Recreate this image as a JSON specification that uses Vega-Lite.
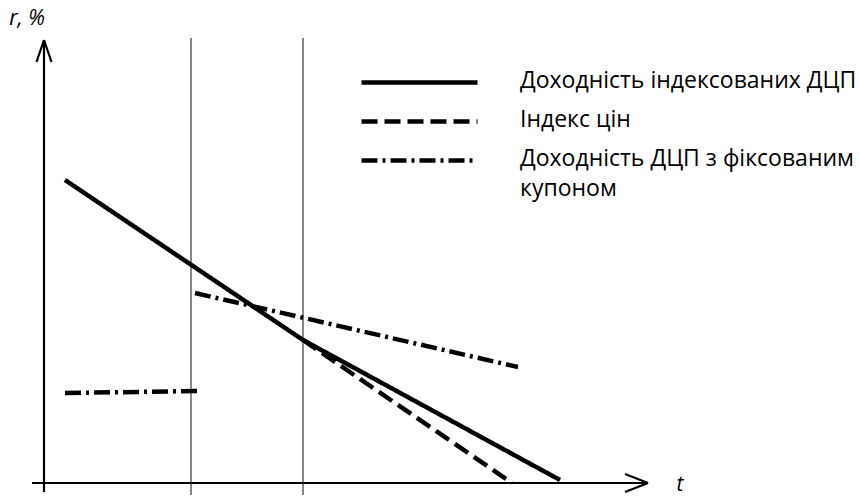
{
  "$schema": "https://vega.github.io/schema/vega-lite/v6.json",
  "width": 860,
  "height": 496,
  "autosize": {"type": "fit", "contains": "padding"},
  "padding": 0,
  "background": "white",
  "config": {"view": {"stroke": null}},
  "datasets": {
    "periods": [
      {"t": 14.7, "r0": -1.2, "r1": 44.5},
      {"t": 25.9, "r0": -1.2, "r1": 44.5}
    ],
    "axes": [
      {"part": "t axis", "t0": -1.2, "r0": 0, "t1": 60.4, "r1": 0},
      {"part": "t arrow upper", "t0": 58.1, "r0": 0.9, "t1": 60.4, "r1": 0},
      {"part": "t arrow lower", "t0": 58.1, "r0": -0.9, "t1": 60.4, "r1": 0},
      {"part": "r axis", "t0": 0, "r0": -0.9, "t1": 0, "r1": 44.3},
      {"part": "r arrow left", "t0": -0.75, "r0": 42.1, "t1": 0, "r1": 44.3},
      {"part": "r arrow right", "t0": 0.75, "r0": 42.1, "t1": 0, "r1": 44.3}
    ],
    "series": [
      {"series": "Доходність індексованих ДЦП", "seg": "a", "t": 2.1, "r": 30.3},
      {"series": "Доходність індексованих ДЦП", "seg": "a", "t": 25.9, "r": 14.3},
      {"series": "Доходність індексованих ДЦП", "seg": "a", "t": 51.6, "r": 0.3},
      {"series": "Індекс цін", "seg": "b", "t": 25.9, "r": 14.3},
      {"series": "Індекс цін", "seg": "b", "t": 46.8, "r": 0},
      {"series": "Доходність ДЦП з фіксованим купоном", "seg": "c1", "t": 2.1, "r": 9.0},
      {"series": "Доходність ДЦП з фіксованим купоном", "seg": "c1", "t": 15.4, "r": 9.2},
      {"series": "Доходність ДЦП з фіксованим купоном", "seg": "c2", "t": 15.1, "r": 19.0},
      {"series": "Доходність ДЦП з фіксованим купоном", "seg": "c2", "t": 47.4, "r": 11.6}
    ],
    "titles": [
      {"label": "r, %", "t": -1.7, "r": 46.4},
      {"label": "t", "t": 63.6, "r": -0.2}
    ]
  },
  "encoding": {
    "x": {"type": "quantitative", "axis": null, "scale": {"domain": [-4.4, 81.6], "nice": false, "zero": false}},
    "y": {"type": "quantitative", "axis": null, "scale": {"domain": [-1.3, 48.3], "nice": false, "zero": false}}
  },
  "layer": [
    {
      "data": {"name": "periods"},
      "mark": {"type": "rule", "color": "#555555", "strokeWidth": 1.4},
      "encoding": {
        "x": {"field": "t", "type": "quantitative"},
        "y": {"field": "r0", "type": "quantitative"},
        "y2": {"field": "r1"}
      }
    },
    {
      "data": {"name": "axes"},
      "mark": {"type": "rule", "color": "black", "strokeWidth": 2.2, "strokeCap": "butt"},
      "encoding": {
        "x": {"field": "t0", "type": "quantitative"},
        "y": {"field": "r0", "type": "quantitative"},
        "x2": {"field": "t1"},
        "y2": {"field": "r1"}
      }
    },
    {
      "data": {"name": "series"},
      "mark": {"type": "line", "color": "black", "strokeWidth": 4.5, "strokeCap": "butt"},
      "encoding": {
        "x": {"field": "t", "type": "quantitative"},
        "y": {"field": "r", "type": "quantitative"},
        "detail": {"field": "seg"},
        "strokeDash": {
          "field": "series",
          "type": "nominal",
          "scale": {
            "domain": ["Доходність індексованих ДЦП", "Індекс цін", "Доходність ДЦП з фіксованим купоном"],
            "range": [[1, 0], [16, 7], [16, 5, 3, 5]]
          },
          "legend": {
            "orient": "none",
            "legendX": 359,
            "legendY": 63,
            "title": null,
            "padding": 0,
            "rowPadding": 0,
            "clipHeight": 39,
            "symbolType": "stroke",
            "symbolSize": 13456,
            "symbolStrokeWidth": 4.5,
            "symbolStrokeColor": "black",
            "labelFont": "Open Sans",
            "labelFontSize": 23,
            "labelColor": "black",
            "labelOffset": 40,
            "labelLimit": 500,
            "labelBaseline": "top",
            "labelExpr": "indexof(datum.label, ' купоном') > 0 ? [replace(datum.label, ' купоном', ''), 'купоном'] : datum.label",
            "encode": {"labels": {"update": {"dy": {"value": -13}, "lineHeight": {"value": 30}}}}
          }
        }
      }
    },
    {
      "data": {"name": "titles"},
      "mark": {"type": "text", "font": "Open Sans", "fontSize": 21, "fontStyle": "italic", "color": "black", "align": "center", "baseline": "middle"},
      "encoding": {
        "x": {"field": "t", "type": "quantitative"},
        "y": {"field": "r", "type": "quantitative"},
        "text": {"field": "label"}
      }
    }
  ]
}
